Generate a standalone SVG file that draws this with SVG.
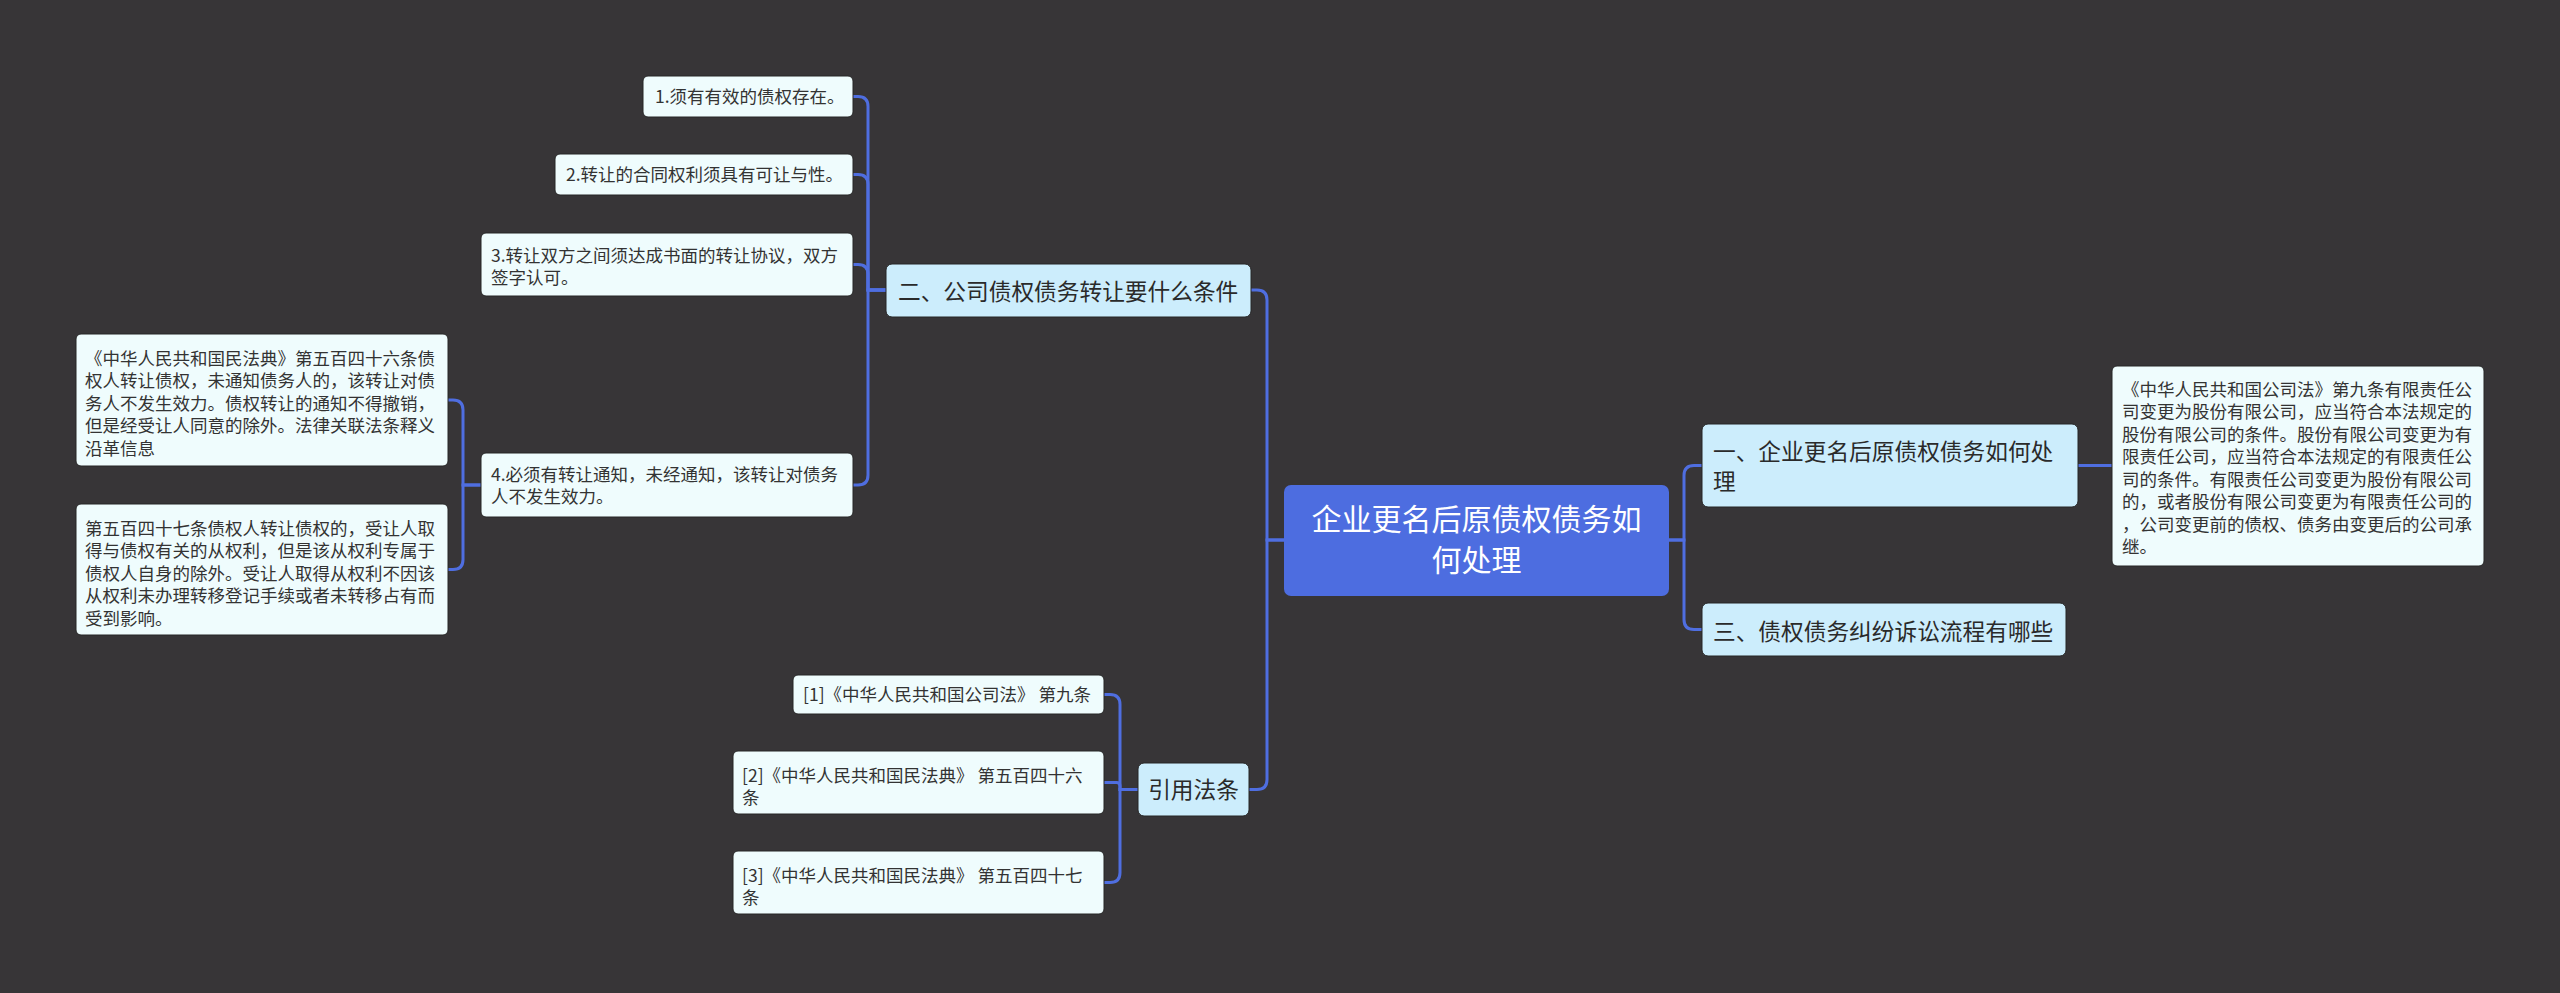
<svg xmlns="http://www.w3.org/2000/svg" width="2560" height="993" viewBox="0 0 2560 993">
<style>
text{font-family:"Noto Sans CJK SC","Noto Sans",sans-serif;}
.leaf rect{fill:#effcfd;stroke:#262626;stroke-width:1;}
.leaf text{font-size:17.5px;fill:#333333;}
.l1 rect{fill:#ccedfc;stroke:#262626;stroke-width:1;}
.l1 text{font-size:22.7px;fill:#2a2a2a;}
.root rect{fill:#4d6de0;}
.root text{font-size:30px;fill:#ffffff;text-anchor:middle;}
.edges path{fill:none;stroke:#4f6ee0;stroke-width:3;stroke-linecap:round;}
</style>
<rect x="0" y="0" width="2560" height="993" fill="#373537"/>
<g class="edges" id="connectors">
<path d="M1284,540 H1267 V300 Q1267,290 1257,290 H1251"/>
<path d="M1284,540 H1267 V779.5 Q1267,789.5 1257,789.5 H1249"/>
<path d="M1669,540 H1684 V475.5 Q1684,465.5 1694,465.5 H1702"/>
<path d="M1669,540 H1684 V619.5 Q1684,629.5 1694,629.5 H1702"/>
<path d="M2078,465.5 H2112"/>
<path d="M886,290 H868 V106.5 Q868,96.5 858,96.5 H853"/>
<path d="M886,290 H868 V184.5 Q868,174.5 858,174.5 H853"/>
<path d="M886,290 H868 V274.5 Q868,264.5 858,264.5 H853"/>
<path d="M886,290 H868 V475 Q868,485 858,485 H853"/>
<path d="M481,485 H463 V410 Q463,400 453,400 H448"/>
<path d="M481,485 H463 V559.5 Q463,569.5 453,569.5 H448"/>
<path d="M1138,789.5 H1120 V704.5 Q1120,694.5 1110,694.5 H1104"/>
<path d="M1138,789.5 H1120 V786 Q1120,782.5 1116.5,782.5 H1104"/>
<path d="M1138,789.5 H1120 V872.5 Q1120,882.5 1110,882.5 H1104"/>
</g>
<g class="root" id="node-root">
<rect x="1284" y="485" width="385" height="111" rx="7"/>
<text x="1476.5" y="530">企业更名后原债权债务如</text>
<text x="1476.5" y="571">何处理</text>
</g>
<g class="l1" id="node-2">
<rect x="886" y="264" width="365" height="53" rx="6"/>
<text x="898" y="300">二、公司债权债务转让要什么条件</text>
</g>
<g class="l1" id="node-1">
<rect x="1702" y="424" width="376" height="83" rx="6"/>
<text x="1713" y="460">一、企业更名后原债权债务如何处</text>
<text x="1713" y="490">理</text>
</g>
<g class="l1" id="node-3">
<rect x="1702" y="603" width="364" height="53" rx="6"/>
<text x="1713" y="640">三、债权债务纠纷诉讼流程有哪些</text>
</g>
<g class="l1" id="node-cite">
<rect x="1138" y="763" width="111" height="53" rx="6"/>
<text x="1193.5" y="798" text-anchor="middle">引用法条</text>
</g>
<g class="leaf" id="node-2-1">
<rect x="643" y="76" width="210" height="41" rx="5"/>
<text x="655" y="103">1.须有有效的债权存在。</text>
</g>
<g class="leaf" id="node-2-2">
<rect x="555" y="154" width="298" height="41" rx="5"/>
<text x="566" y="181">2.转让的合同权利须具有可让与性。</text>
</g>
<g class="leaf" id="node-2-3">
<rect x="481" y="233" width="372" height="63" rx="5"/>
<text x="491" y="261.5">3.转让双方之间须达成书面的转让协议，双方</text>
<text x="491" y="284">签字认可。</text>
</g>
<g class="leaf" id="node-2-4">
<rect x="481" y="453" width="372" height="64" rx="5"/>
<text x="491" y="480.5">4.必须有转让通知，未经通知，该转让对债务</text>
<text x="491" y="503">人不发生效力。</text>
</g>
<g class="leaf" id="node-2-4-1">
<rect x="76" y="334" width="372" height="132" rx="5"/>
<text x="85" y="364.5">《中华人民共和国民法典》第五百四十六条债</text>
<text x="85" y="387">权人转让债权，未通知债务人的，该转让对债</text>
<text x="85" y="409.5">务人不发生效力。债权转让的通知不得撤销，</text>
<text x="85" y="432">但是经受让人同意的除外。法律关联法条释义</text>
<text x="85" y="454.5">沿革信息</text>
</g>
<g class="leaf" id="node-2-4-2">
<rect x="76" y="504" width="372" height="131" rx="5"/>
<text x="85" y="534.5">第五百四十七条债权人转让债权的，受让人取</text>
<text x="85" y="557">得与债权有关的从权利，但是该从权利专属于</text>
<text x="85" y="579.5">债权人自身的除外。受让人取得从权利不因该</text>
<text x="85" y="602">从权利未办理转移登记手续或者未转移占有而</text>
<text x="85" y="624.5">受到影响。</text>
</g>
<g class="leaf" id="node-1-1">
<rect x="2112" y="366" width="372" height="200" rx="5"/>
<text x="2122" y="395.5">《中华人民共和国公司法》第九条有限责任公</text>
<text x="2122" y="418">司变更为股份有限公司，应当符合本法规定的</text>
<text x="2122" y="440.5">股份有限公司的条件。股份有限公司变更为有</text>
<text x="2122" y="463">限责任公司，应当符合本法规定的有限责任公</text>
<text x="2122" y="485.5">司的条件。有限责任公司变更为股份有限公司</text>
<text x="2122" y="508">的，或者股份有限公司变更为有限责任公司的</text>
<text x="2122" y="530.5">，公司变更前的债权、债务由变更后的公司承</text>
<text x="2122" y="553">继。</text>
</g>
<g class="leaf" id="node-cite-1">
<rect x="793" y="675" width="311" height="39" rx="5"/>
<text x="803" y="701">[1]《中华人民共和国公司法》 第九条</text>
</g>
<g class="leaf" id="node-cite-2">
<rect x="733" y="751" width="371" height="63" rx="5"/>
<text x="742" y="781.5">[2]《中华人民共和国民法典》 第五百四十六</text>
<text x="742" y="804">条</text>
</g>
<g class="leaf" id="node-cite-3">
<rect x="733" y="851" width="371" height="63" rx="5"/>
<text x="742" y="881.5">[3]《中华人民共和国民法典》 第五百四十七</text>
<text x="742" y="904">条</text>
</g>
</svg>
